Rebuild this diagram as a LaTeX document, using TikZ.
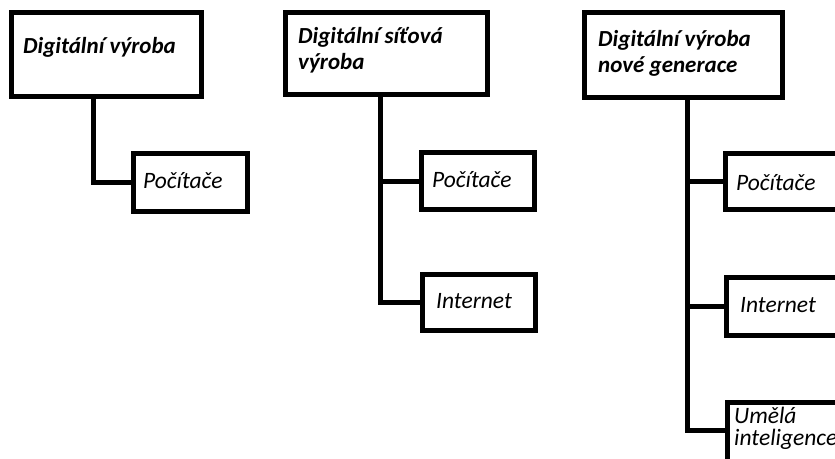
\documentclass[tikz,border=0pt]{standalone}
\usepackage{fontspec}
\setmainfont{Carlito}
\begin{document}
\begin{tikzpicture}[x=1pt,y=-1pt,
  box/.style={draw,line width=5pt,rectangle,inner sep=0pt},
  conn/.style={line width=5pt},
  ttl/.style={font=\fontsize{23}{26}\selectfont\bfseries\itshape,anchor=base west,inner sep=0pt,align=left},
  chl/.style={font=\fontsize{23.5}{22}\selectfont\itshape,anchor=base west,inner sep=0pt,align=left}]
\useasboundingbox (0,0) rectangle (835,458);
\clip (0,0) rectangle (835,458);
% column 1
\node[box,minimum width=190pt,minimum height=84pt] (B1) at (106.5,54.5) {};
\node[box,minimum width=114pt,minimum height=58pt] (C1) at (190.5,182) {};
\node[ttl] (tB1) at (23,53) {Digitální výroba};
\node[chl] (tC1) at (143,188) {Počítače};
\coordinate (t1) at ([xshift=84pt]B1.south west);
\draw[conn] (t1) |- (C1.west);
% column 2
\node[box,minimum width=202pt,minimum height=82pt] (B2) at (386.5,53.5) {};
\node[box,minimum width=113pt,minimum height=57pt] (C2) at (478,181) {};
\node[box,minimum width=113pt,minimum height=56pt] (I2) at (479,302.5) {};
\node[ttl] (tB2) at (298,69.5) {Digitální síťová\\výroba};
\node[chl] (tC2) at (432,187) {Počítače};
\node[chl] (tI2) at (436,308) {Internet};
\coordinate (t2) at ([xshift=97pt]B2.south west);
\draw[conn] (t2) |- (I2.west);
\draw[conn] (t2 |- C2.west) -- (C2.west);
% column 3
\node[box,minimum width=198pt,minimum height=85pt] (B3) at (683.5,55) {};
\node[box,minimum width=150pt,minimum height=56pt] (C3) at (800.5,181.5) {};
\node[box,minimum width=150pt,minimum height=58pt] (I3) at (801.5,306.5) {};
\node[box,minimum width=150pt,minimum height=80pt] (U3) at (802.5,442.5) {};
\node[ttl] (tB3) at (598,72) {Digitální výroba\\nové generace};
\node[chl] (tC3) at (736,190) {Počítače};
\node[chl] (tI3) at (740,312) {Internet};
\node[chl] (tU3) at (734,445) {Umělá\\inteligence};
\coordinate (t3) at ([xshift=105pt]B3.south west);
\draw[conn] (t3) |- ([yshift=-30pt]U3.north west);
\draw[conn] (t3 |- C3.west) -- (C3.west);
\draw[conn] (t3 |- I3.west) -- (I3.west);
\end{tikzpicture}
\end{document}
